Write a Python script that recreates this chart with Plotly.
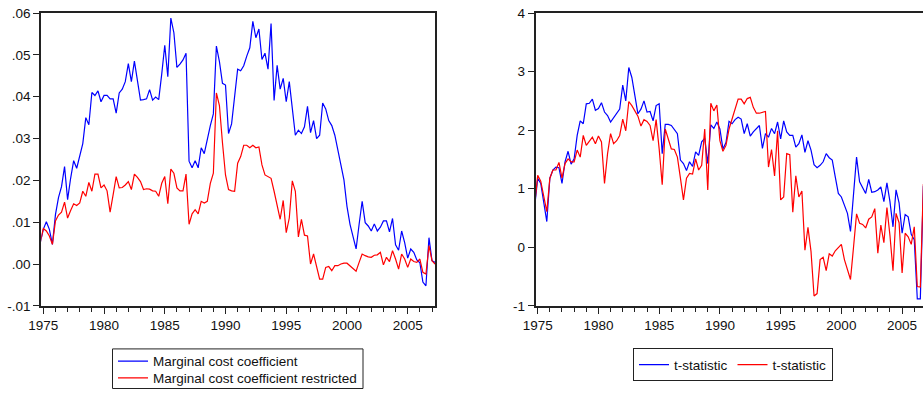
import plotly.graph_objects as go

# quarterly dates: 1974Q4 ... 2007Q2 (1975Q1 = 1975.0)
start_year = 1974.75
n_obs = 131

mc_coef = [0.0051, 0.0083, 0.0101, 0.0083, 0.0047, 0.0118, 0.0159, 0.0185, 0.0233, 0.0154,
           0.0205, 0.0247, 0.0229, 0.0260, 0.0288, 0.0350, 0.0333, 0.0410, 0.0403, 0.0414,
           0.0388, 0.0403, 0.0403, 0.0395, 0.0395, 0.0361, 0.0409, 0.0418, 0.0436, 0.0479,
           0.0436, 0.0485, 0.0438, 0.0392, 0.0393, 0.0395, 0.0417, 0.0392, 0.0399, 0.0393,
           0.0454, 0.0523, 0.0448, 0.0588, 0.0553, 0.0470, 0.0478, 0.0488, 0.0504, 0.0246,
           0.0230, 0.0247, 0.0230, 0.0278, 0.0264, 0.0300, 0.0331, 0.0359, 0.0521, 0.0484,
           0.0432, 0.0428, 0.0312, 0.0335, 0.0395, 0.0466, 0.0462, 0.0474, 0.0497, 0.0517,
           0.0580, 0.0541, 0.0562, 0.0489, 0.0504, 0.0466, 0.0575, 0.0391, 0.0475, 0.0418,
           0.0444, 0.0388, 0.0436, 0.0371, 0.0308, 0.0320, 0.0312, 0.0328, 0.0377, 0.0314,
           0.0343, 0.0300, 0.0308, 0.0385, 0.0371, 0.0343, 0.0331, 0.0308, 0.0276, 0.0237,
           0.0201, 0.0138, 0.0095, 0.0063, 0.0036, 0.0095, 0.0150, 0.0099, 0.0091, 0.0079,
           0.0096, 0.0079, 0.0088, 0.0103, 0.0103, 0.0077, 0.0109, 0.0046, 0.0033, 0.0079,
           0.0051, 0.0014, 0.0036, 0.0028, 0.0010, 0.0003, -0.0043, -0.0052, 0.0063, 0.0008,
           0.0004]

mc_coef_restricted = [0.0051, 0.0085, 0.0079, 0.0067, 0.0047, 0.0103, 0.0117, 0.0124, 0.0148, 0.0110,
                      0.0128, 0.0144, 0.0140, 0.0146, 0.0174, 0.0162, 0.0195, 0.0174, 0.0215, 0.0215,
                      0.0182, 0.0189, 0.0175, 0.0124, 0.0166, 0.0209, 0.0182, 0.0183, 0.0189, 0.0197,
                      0.0178, 0.0215, 0.0207, 0.0197, 0.0178, 0.0180, 0.0179, 0.0175, 0.0174, 0.0162,
                      0.0193, 0.0209, 0.0144, 0.0227, 0.0217, 0.0182, 0.0175, 0.0175, 0.0215, 0.0095,
                      0.0120, 0.0130, 0.0120, 0.0150, 0.0146, 0.0150, 0.0193, 0.0217, 0.0409, 0.0379,
                      0.0290, 0.0213, 0.0178, 0.0175, 0.0174, 0.0241, 0.0257, 0.0284, 0.0284, 0.0278,
                      0.0284, 0.0278, 0.0280, 0.0237, 0.0213, 0.0208, 0.0205, 0.0174, 0.0138, 0.0107,
                      0.0152, 0.0075, 0.0110, 0.0199, 0.0174, 0.0065, 0.0107, 0.0069, 0.0067, 0.0000,
                      0.0024, -0.0004, -0.0036, -0.0036, -0.0008, -0.0006, -0.0016, -0.0004, -0.0004, 0.0000,
                      0.0002, 0.0002, -0.0004, -0.0010, -0.0017, 0.0004, 0.0024, 0.0020, 0.0017, 0.0016,
                      0.0021, 0.0022, 0.0028, -0.0002, 0.0016, 0.0006, 0.0032, 0.0012, -0.0012, 0.0024,
                      0.0012, -0.0008, 0.0012, 0.0006, 0.0004, 0.0012, -0.0020, -0.0024, 0.0044, 0.0008,
                      0.0000]

t_stat = [0.69, 1.18, 1.09, 0.78, 0.44, 1.18, 1.32, 1.37, 1.36, 1.09,
          1.46, 1.64, 1.42, 1.51, 1.91, 2.16, 2.11, 2.45, 2.46, 2.53,
          2.34, 2.37, 2.47, 2.31, 2.25, 2.14, 2.22, 2.28, 2.36, 2.77,
          2.50, 3.07, 2.90, 2.59, 2.28, 2.36, 2.50, 2.31, 2.32, 2.16,
          2.42, 2.45, 1.60, 2.10, 2.10, 2.08, 2.02, 1.94, 1.49, 1.43,
          1.31, 1.46, 1.38, 1.63, 1.57, 1.80, 1.86, 1.43, 2.09, 2.03,
          2.14, 2.02, 1.68, 1.79, 2.15, 2.11, 2.18, 2.22, 2.19, 1.94,
          2.11, 1.90, 1.97, 2.02, 2.08, 1.69, 1.94, 1.88, 2.03, 1.94,
          2.14, 1.85, 2.16, 1.97, 1.91, 1.91, 1.71, 1.77, 1.92, 1.62,
          1.82, 1.66, 1.41, 1.36, 1.40, 1.46, 1.60, 1.53, 1.49, 1.20,
          0.92, 0.86, 0.72, 0.58, 0.27, 0.85, 1.54, 1.12, 1.01, 0.92,
          1.16, 0.94, 0.95, 0.98, 1.03, 0.78, 1.10, 0.78, 0.35, 0.98,
          0.76, 0.24, 0.56, 0.52, 0.22, 0.13, -0.88, -0.88, 1.05]

t_stat_restricted = [0.72, 1.23, 1.13, 0.89, 0.61, 1.18, 1.32, 1.32, 1.45, 1.18,
                     1.43, 1.51, 1.46, 1.46, 1.66, 1.54, 1.91, 1.74, 1.81, 1.88,
                     1.77, 1.90, 1.80, 1.09, 1.60, 1.94, 1.77, 1.82, 1.91, 2.19,
                     1.99, 2.49, 2.42, 2.33, 2.24, 2.07, 2.18, 2.15, 2.08, 1.82,
                     2.18, 1.68, 1.07, 2.02, 1.85, 1.68, 1.67, 1.54, 1.18, 0.81,
                     1.18, 1.26, 1.25, 1.51, 1.32, 1.40, 2.02, 0.98, 2.46, 2.33,
                     2.43, 1.82, 1.64, 1.74, 2.02, 2.19, 2.36, 2.53, 2.53, 2.45,
                     2.54, 2.56, 2.39, 2.29, 2.29, 2.31, 2.32, 1.37, 1.67, 1.22,
                     1.99, 0.81, 0.86, 1.60, 1.58, 0.60, 1.22, 0.86, 0.96, -0.05,
                     0.34, -0.07, -0.83, -0.79, -0.21, -0.17, -0.40, -0.11, -0.15, -0.06,
                     -0.01, 0.05, -0.21, -0.38, -0.55, 0.00, 0.57, 0.41, 0.39, 0.33,
                     0.48, 0.52, 0.66, -0.10, 0.38, 0.08, 0.68, 0.20, -0.40, 0.58,
                     0.42, -0.44, 0.24, 0.18, 0.05, 0.35, -0.67, -0.68, 1.08]

year_ticks = [1975, 1980, 1985, 1990, 1995, 2000, 2005]
left_y_ticks = [-0.01, 0.00, 0.01, 0.02, 0.03, 0.04, 0.05, 0.06]
left_y_labels = ["-.01", ".00", ".01", ".02", ".03", ".04", ".05", ".06"]
right_y_ticks = [-1, 0, 1, 2, 3, 4]
right_y_labels = ["-1", "0", "1", "2", "3", "4"]

dates = [start_year + 0.25 * k for k in range(n_obs)]

W, H = 923, 394
FONT = "Liberation Sans, Arial, Helvetica, sans-serif"
AX = "#222222"
BLUE = "#0000ff"
RED = "#ff0000"
FS = 13.5

fig = go.Figure()
fig.add_trace(go.Scatter(x=dates[:len(mc_coef)], y=mc_coef, mode="lines",
                         line=dict(color=BLUE, width=1.2),
                         name="Marginal cost coefficient", xaxis="x", yaxis="y", legend="legend"))
fig.add_trace(go.Scatter(x=dates[:len(mc_coef_restricted)], y=mc_coef_restricted, mode="lines",
                         line=dict(color=RED, width=1.2),
                         name="Marginal cost coefficient restricted", xaxis="x", yaxis="y", legend="legend3"))
fig.add_trace(go.Scatter(x=dates[:len(t_stat)], y=t_stat, mode="lines",
                         line=dict(color=BLUE, width=1.2),
                         name="t-statistic", xaxis="x2", yaxis="y2", legend="legend2"))
fig.add_trace(go.Scatter(x=dates[:len(t_stat_restricted)], y=t_stat_restricted, mode="lines",
                         line=dict(color=RED, width=1.2),
                         name="t-statistic", xaxis="x2", yaxis="y2", legend="legend2"))

px_per_year = 12.147
left_tick_px = 43.3
right_tick_px = 537.7

def xrange(axis_left_px, axis_right_px, tick_px):
    return [1975 + (axis_left_px - tick_px) / px_per_year,
            1975 + (axis_right_px - tick_px) / px_per_year]

ydom = [1 - 309.0 / H, 1 - 13.2 / H]

xcommon = dict(showgrid=False, zeroline=False, showline=True, linecolor=AX, linewidth=2,
               mirror=True, ticks="outside", ticklen=6, tickwidth=1, tickcolor=AX,
               tickmode="array", tickvals=year_ticks, ticktext=[str(y) for y in year_ticks],
               minor=dict(tick0=1975, dtick=1, ticks="outside", ticklen=4, tickwidth=1, tickcolor=AX),
               tickfont=dict(family=FONT, size=FS, color="#111"), automargin=False)
ycommon = dict(showgrid=False, zeroline=False, showline=True, linecolor=AX, linewidth=2,
               ticks="outside", ticklen=6, tickwidth=1, tickcolor=AX, tickmode="array",
               tickfont=dict(family=FONT, size=FS, color="#111"), automargin=False, domain=ydom)

legfont = dict(family=FONT, size=FS, color="#111")

fig.update_layout(
    width=W, height=H, autosize=False,
    margin=dict(l=0, r=0, t=0, b=0),
    paper_bgcolor="white", plot_bgcolor="white",
    font=dict(family=FONT, size=FS, color="#111"),
    xaxis=dict(domain=[41.3 / W, 435.3 / W], range=xrange(41.3, 435.3, left_tick_px),
               anchor="y", **xcommon),
    yaxis=dict(range=[-0.01, 0.06], tickvals=left_y_ticks, ticktext=left_y_labels,
               anchor="x", mirror=True, **ycommon),
    xaxis2=dict(domain=[535.7 / W, 1.0], range=xrange(535.7, 923, right_tick_px),
                anchor="y2", **xcommon),
    yaxis2=dict(range=[-1, 4], tickvals=right_y_ticks, ticktext=right_y_labels,
                anchor="x2", mirror=False, **ycommon),
    legend=dict(x=113 / W, y=1 - 365 / H, xanchor="left", yanchor="middle",
                orientation="v", borderwidth=0, bgcolor="rgba(0,0,0,0)",
                font=legfont, itemwidth=30),
    legend3=dict(x=113 / W, y=1 - 382 / H, xanchor="left", yanchor="middle",
                 orientation="v", borderwidth=0, bgcolor="rgba(0,0,0,0)",
                 font=legfont, itemwidth=30),
    legend2=dict(x=633 / W, y=1 - 352 / H, xanchor="left", yanchor="top",
                 orientation="h", bordercolor="#222", borderwidth=1, bgcolor="white",
                 font=legfont, itemwidth=30),
    shapes=[dict(type="rect", xref="paper", yref="paper",
                 x0=112.5 / W, x1=363 / W, y0=1 - 392.5 / H, y1=1 - 352.5 / H,
                 line=dict(color="#222", width=1), fillcolor="rgba(0,0,0,0)", layer="below")],
    showlegend=True,
)

fig.write_html("out.html",
               config={"displayModeBar": False},
               post_script="document.body.style.margin='0';"
                           "document.documentElement.style.overflow='hidden';"
                           "document.body.style.overflow='hidden';")
